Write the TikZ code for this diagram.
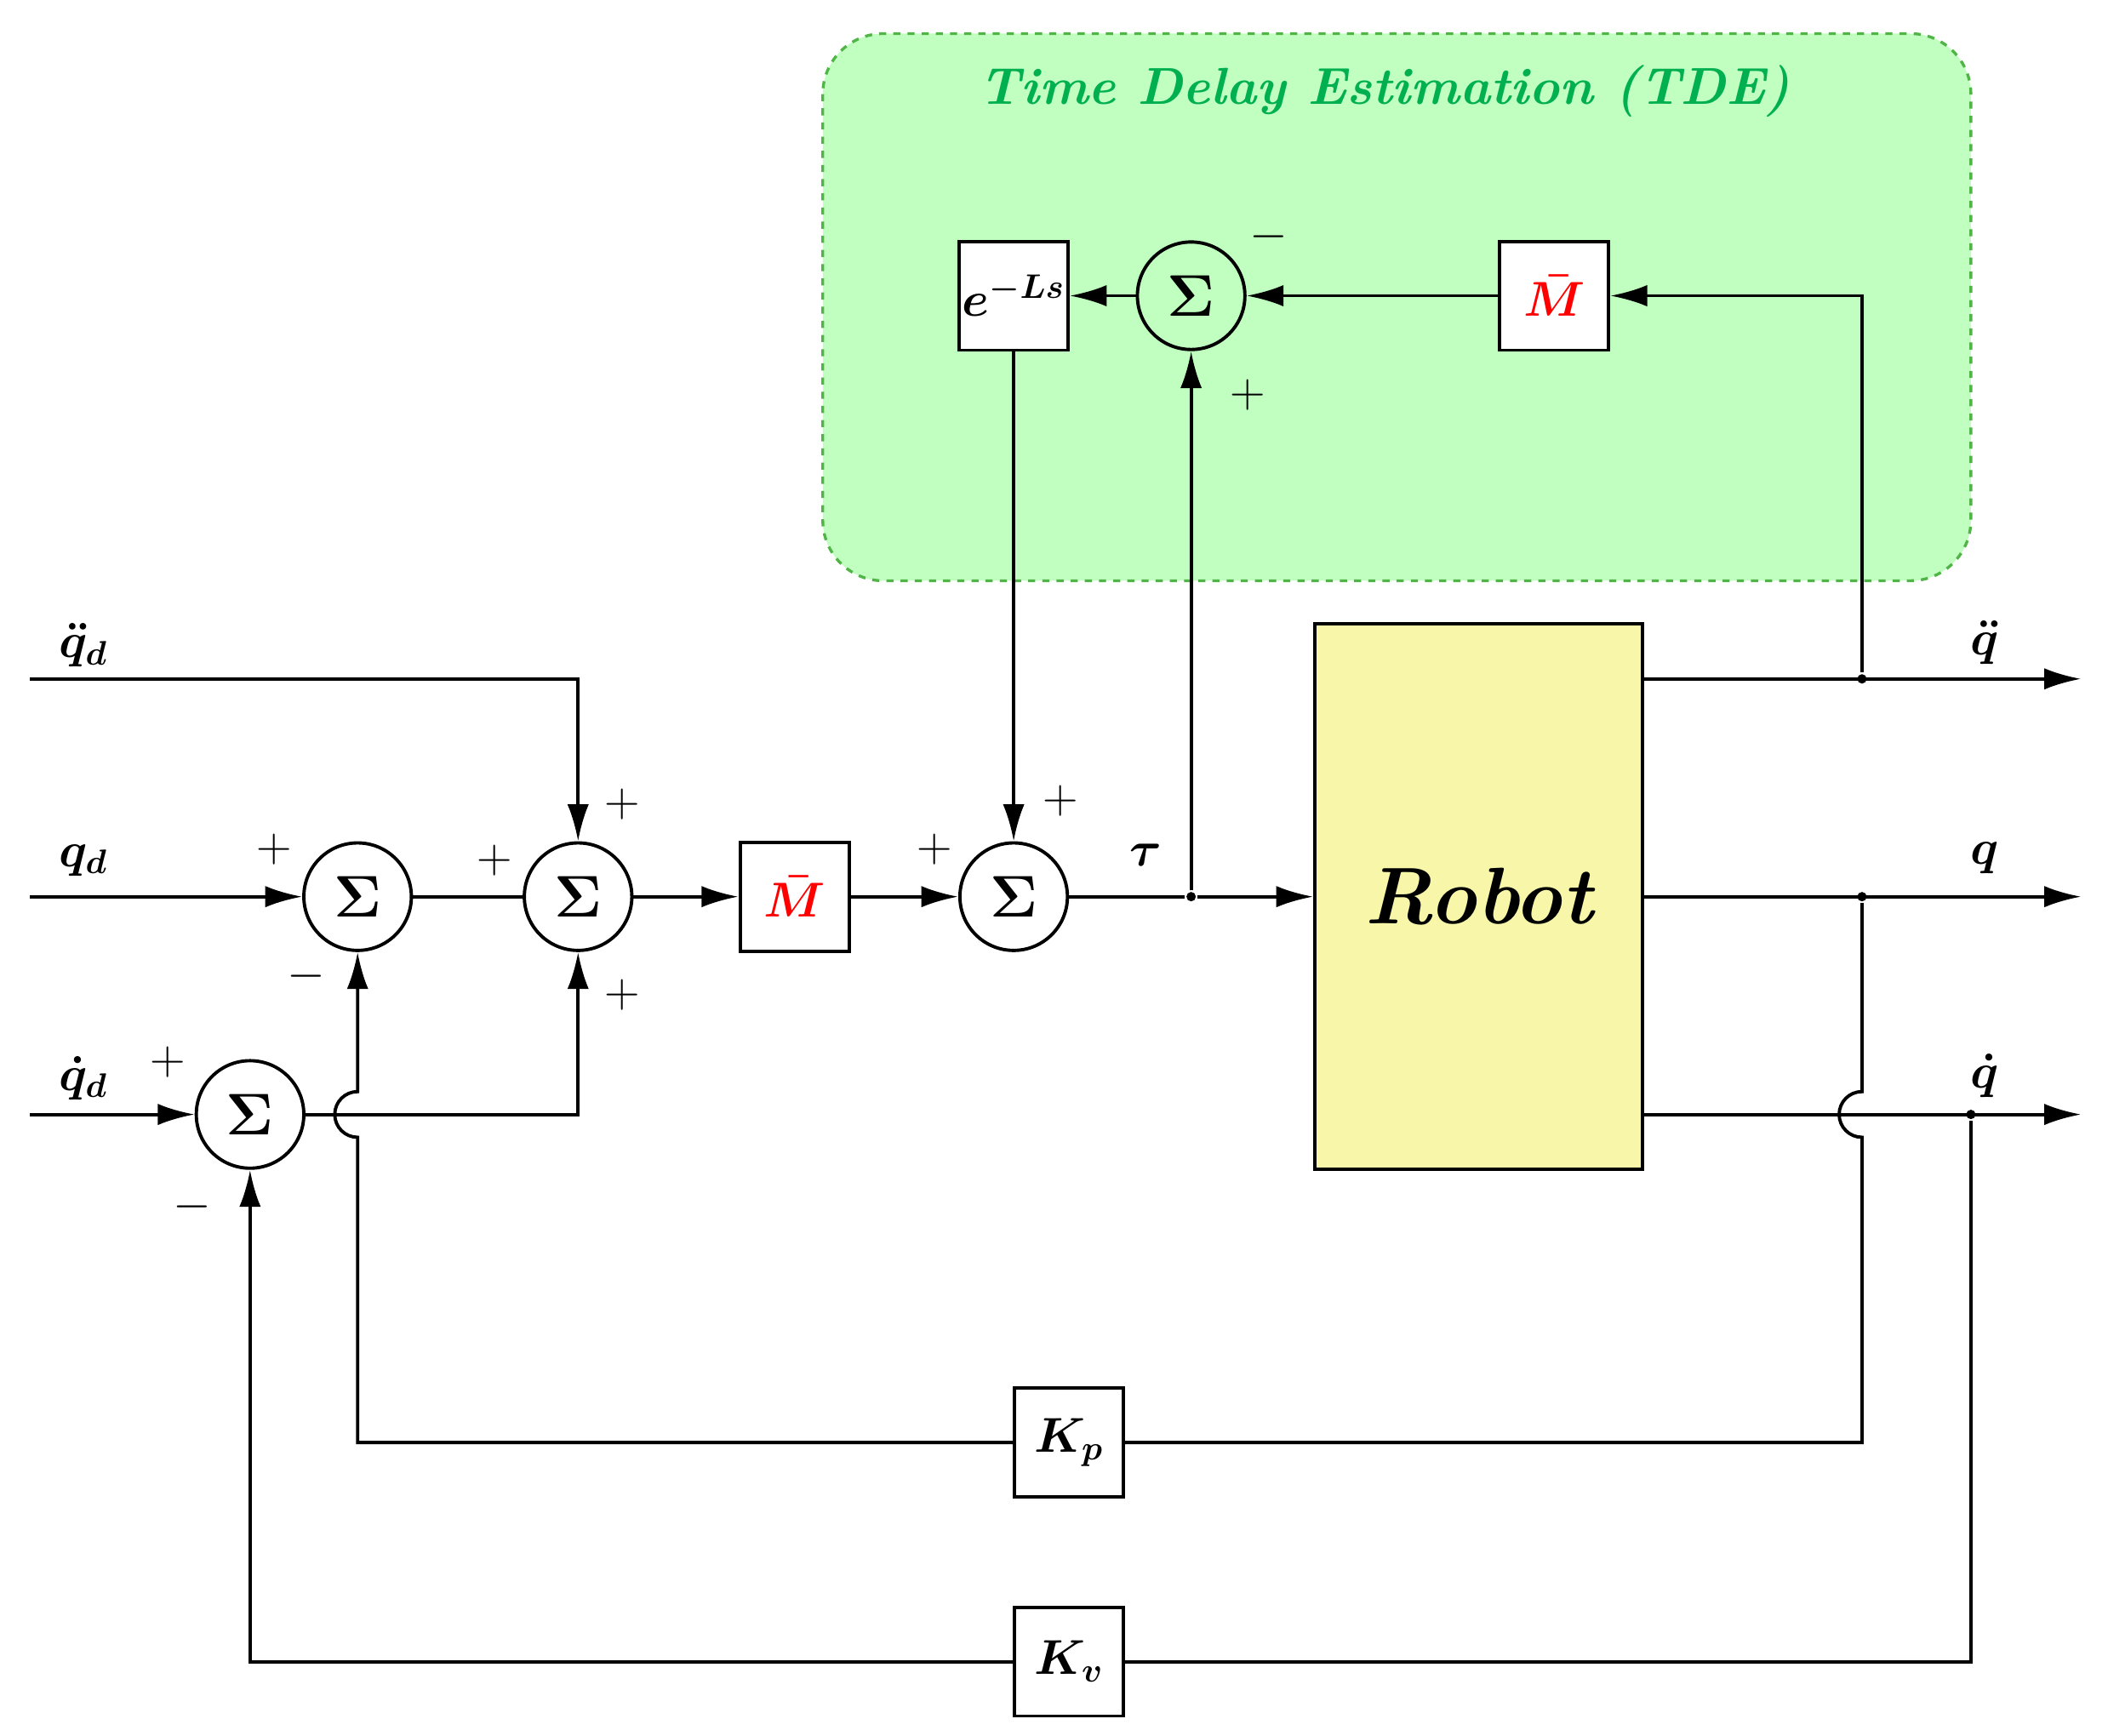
\documentclass[tikz,border=0pt]{standalone}
\usepackage{fontspec}
\usetikzlibrary{arrows.meta}
\definecolor{tdefill}{RGB}{192,255,192}
\definecolor{tdeline}{RGB}{80,180,70}
\definecolor{tdetext}{RGB}{0,176,80}
\definecolor{robotfill}{RGB}{248,246,168}
\begin{document}
\begin{tikzpicture}[x=0.02cm,y=-0.02cm,
  line width=1.4pt,
  >={Latex[length=0.55cm,width=0.32cm]},
  sum/.style={circle,draw,line width=1.4pt,minimum size=1.6cm,inner sep=0pt,font=\fontsize{26}{28}\selectfont\boldmath},
  blk/.style={draw,line width=1.4pt,minimum width=1.62cm,minimum height=1.62cm,inner sep=0pt,fill=white,font=\fontsize{20}{22}\selectfont\boldmath},
  lbl/.style={font=\fontsize{20}{22}\selectfont\boldmath},
  sgn/.style={font=\fontsize{22}{24}\selectfont},
  dot/.style={circle,fill,inner sep=0pt,minimum size=0.14cm}]
\useasboundingbox (0,0) rectangle (1568,1291);
% TDE region
\draw[tdeline,dashed,fill=tdefill,line width=1.2pt,rounded corners=0.9cm] (612,25) rectangle (1466,432);
\node[text=tdetext,font=\fontsize{22}{24}\selectfont\bfseries\itshape] (title) at (1030,68) {Time Delay Estimation (TDE)};
% nodes
\node[blk] (e) at (754,220) {$e^{-Ls}$};
\node[sum] (st) at (886,220) {$\Sigma$};
\node[blk,text=red] (mt) at (1156,220) {$\bar{M}$};
\node[draw,line width=1.4pt,fill=robotfill,minimum width=4.88cm,minimum height=8.12cm,font=\fontsize{34}{36}\selectfont\bfseries\itshape] (robot) at (1100,667) {Robot};
\node[sum] (s1) at (266,667) {$\Sigma$};
\node[sum] (s2) at (430,667) {$\Sigma$};
\node[blk,text=red] (mm) at (591,667) {$\bar{M}$};
\node[sum] (s3) at (754,667) {$\Sigma$};
\node[sum] (s4) at (186,829) {$\Sigma$};
\node[blk] (kp) at (795,1073) {$K_p$};
\node[blk] (kv) at (795,1236) {$K_v$};
% coordinates
\coordinate (in1) at (22,505);
\coordinate (in2) at (22,667);
\coordinate (in3) at (22,829);
\coordinate (o1) at (1548,505);
\coordinate (o2) at (1548,667);
\coordinate (o3) at (1548,829);
\node[dot] (jt) at (886,667) {};
\node[dot] (j1) at (1385,505) {};
\node[dot] (j2) at (1385,667) {};
\node[dot] (j3) at (1466,829) {};
% connectors
\draw[->] (in1) -| (s2.north);
\draw[->] (in2) -- (s1.west);
\draw[->] (in3) -- (s4.west);
\draw (s1.east) -- (s2.west);
\draw[->] (s2.east) -- (mm.west);
\draw[->] (mm.east) -- (s3.west);
\draw (s3.east) -- (jt);
\draw[->] (jt) -- (robot.west);
\draw[->] (jt) -- (st.south);
\draw[->] (s4.east) -| (s2.south);
\draw[->] (e.south) -- (s3.north);
\draw[->] (st.west) -- (e.east);
\draw[->] (mt.west) -- (st.east);
\draw[->] (j1) |- (mt.east);
\draw[->] (robot.east |- o1) -- (o1);
\draw[->] (robot.east |- o2) -- (o2);
\draw[->] (robot.east |- o3) -- (o3);
\draw[->] (kp.west) -| (266,846) arc[start angle=-90,end angle=-270,radius=0.34cm] -- (s1.south);
\draw (j2) -- (1385,812) arc[start angle=90,end angle=270,radius=0.34cm] |- (kp.east);
\draw[->] (kv.west) -| (s4.south);
\draw (j3) |- (kv.east);
% labels
\node[lbl] (l1) at (62,480) {$\ddot{q}_d$};
\node[lbl] (l2) at (62,640) {$q_d$};
\node[lbl] (l3) at (62,802) {$\dot{q}_d$};
\node[lbl] (l4) at (1476,478) {$\ddot{q}$};
\node[lbl] (l5) at (1476,638) {$q$};
\node[lbl] (l6) at (1476,800) {$\dot{q}$};
\node[lbl] (l7) at (852,636) {$\tau$};
% signs
\node[sgn] at (204,632) {$+$};
\node[sgn] at (228,726) {$-$};
\node[sgn] at (368,640) {$+$};
\node[sgn] at (463,598) {$+$};
\node[sgn] at (463,740) {$+$};
\node[sgn] at (695,632) {$+$};
\node[sgn] at (789,596) {$+$};
\node[sgn] at (125,790) {$+$};
\node[sgn] at (143,898) {$-$};
\node[sgn] at (944,176) {$-$};
\node[sgn] at (928,294) {$+$};
\end{tikzpicture}
\end{document}
